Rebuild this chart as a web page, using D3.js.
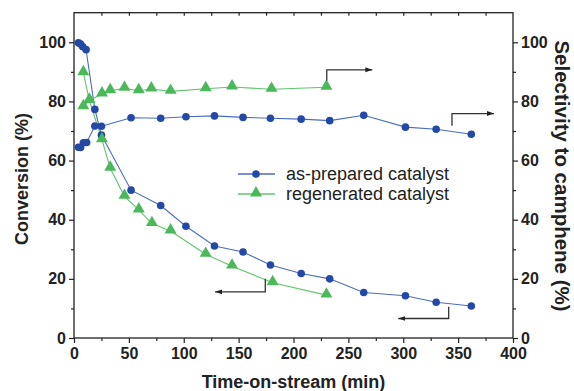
<!DOCTYPE html>
<html><head><meta charset="utf-8">
<script src="https://cdn.jsdelivr.net/npm/d3@7"></script>
<style>body{margin:0;background:#fff}svg{display:block}</style>
</head><body>
<svg id="chart" width="574" height="391"></svg>
<script>
// as-prepared catalyst
const bluConvT = [4, 6, 8, 11, 19, 25, 52, 79, 102, 128, 154, 179, 207, 233, 264, 302, 330, 362];
const bluConvV = [99.8, 99.4, 98.5, 97.5, 77.3, 68.6, 50, 44.8, 37.8, 31.1, 29.1, 24.7, 21.8, 20, 15.4, 14.3, 12.1, 10.8];
const bluSelT = [4, 6, 8.5, 11.5, 19, 25, 52, 79, 102, 128, 154, 179, 207, 233, 264, 302, 330, 362];
const bluSelV = [64.5, 64.4, 66, 66.1, 71.7, 71.6, 74.5, 74.3, 74.8, 75.1, 74.6, 74.3, 74, 73.5, 75.3, 71.3, 70.6, 68.9];
// regenerated catalyst
const grnConvT = [8.5, 14, 25.5, 33, 46, 59, 71, 88, 120, 144, 181, 230];
const grnConvV = [89.7, 80.3, 67, 57.4, 47.9, 43.3, 38.7, 36.2, 28.3, 24.3, 18.7, 14.5];
const grnSelT = [8.5, 14, 25.5, 33, 46, 59, 70.5, 88, 120, 144, 180, 230];
const grnSelV = [78.2, 80.3, 82.5, 83.6, 84.4, 83.6, 84.2, 83.4, 84.3, 84.9, 84.1, 84.8];
// axis ticks
const xTicks = [0, 50, 100, 150, 200, 250, 300, 350, 400];
const yTicks = [0, 20, 40, 60, 80, 100];
// annotation arrows [t, v] : corner-start, corner, end
const arrows = [
  [[230.3, 87], [230.3, 90.7], [271.8, 90.7]],
  [[344.4, 71.8], [344.4, 75.9], [382.7, 75.9]],
  [[174.3, 20], [174.3, 15.6], [128.5, 15.6]],
  [[341.4, 10.6], [341.4, 6.6], [295.5, 6.6]]
];
const legendLabels = ["as-prepared catalyst", "regenerated catalyst"];

const BLUE = "#2348a6", BLUE_L = "#4a6cc0", GREEN = "#4cb85c", GREEN_L = "#62c46f";
const svg = d3.select("#chart");
const L = 74, R = 513, T = 12.7, B = 338;
const x = d3.scaleLinear().domain([0, 400]).range([L, R]);
const y = d3.scaleLinear().domain([0, 110]).range([B, T]);
const FONT = "'Liberation Sans', Arial, Helvetica, sans-serif";

svg.append("defs").append("marker").attr("id", "ah").attr("viewBox", "0 0 10 10")
  .attr("refX", 10).attr("refY", 5).attr("markerWidth", 7).attr("markerHeight", 7)
  .attr("markerUnits", "userSpaceOnUse").attr("orient", "auto")
  .append("path").attr("d", "M0,1.5L10,5L0,8.5Z").attr("fill", "#222");

// frame
svg.append("rect").attr("x", L).attr("y", T).attr("width", R - L).attr("height", B - T)
  .attr("fill", "none").attr("stroke", "#222").attr("stroke-width", 1.3);

// axes
const tickStyle = g => {
  g.select(".domain").remove();
  g.selectAll("line").attr("stroke", "#222").attr("stroke-width", 1.2);
  g.selectAll("text").attr("font-family", FONT).attr("font-weight", "bold").attr("font-size", "16px").attr("fill", "#222");
};
const minorY = d3.range(10, 110, 20);
const minorX = d3.range(25, 400, 50);
svg.append("g").attr("transform", `translate(${L},0)`).call(d3.axisLeft(y).tickValues(yTicks).tickSize(5).tickPadding(3)).call(tickStyle);
svg.append("g").attr("transform", `translate(${L},0)`).call(d3.axisLeft(y).tickValues(minorY).tickSize(3).tickFormat("")).call(tickStyle);
svg.append("g").attr("transform", `translate(${R},0)`).call(d3.axisRight(y).tickValues(yTicks).tickSize(5).tickPadding(3)).call(tickStyle);
svg.append("g").attr("transform", `translate(${R},0)`).call(d3.axisRight(y).tickValues(minorY).tickSize(3).tickFormat("")).call(tickStyle);
svg.append("g").attr("transform", `translate(0,${B})`).call(d3.axisBottom(x).tickValues(xTicks).tickSize(5).tickPadding(5)).call(tickStyle);
svg.append("g").attr("transform", `translate(0,${B})`).call(d3.axisBottom(x).tickValues(minorX).tickSize(3).tickFormat("")).call(tickStyle);
svg.append("g").attr("transform", `translate(0,${T})`).call(d3.axisBottom(x).tickValues(d3.range(25, 400, 25)).tickSize(3).tickFormat("")).call(tickStyle);

// titles
svg.append("text").attr("x", (L + R) / 2).attr("y", 388).attr("text-anchor", "middle")
  .attr("font-family", FONT).attr("font-weight", "bold").attr("font-size", "18px").attr("fill", "#222").text("Time-on-stream (min)");
svg.append("text").attr("transform", "translate(28,179) rotate(-90)").attr("text-anchor", "middle")
  .attr("font-family", FONT).attr("font-weight", "bold").attr("font-size", "18px").attr("fill", "#222").text("Conversion (%)");
svg.append("text").attr("transform", "translate(555,176) rotate(90)").attr("text-anchor", "middle")
  .attr("font-family", FONT).attr("font-weight", "bold").attr("font-size", "20.5px").attr("fill", "#222").text("Selectivity to camphene (%)");

// series
const line = d3.line().x(d => x(d[0])).y(d => y(d[1]));
const series = [
  {t: bluConvT, v: bluConvV, c: BLUE, l: BLUE_L, m: "c"},
  {t: bluSelT, v: bluSelV, c: BLUE, l: BLUE_L, m: "c"},
  {t: grnConvT, v: grnConvV, c: GREEN, l: GREEN_L, m: "t"},
  {t: grnSelT, v: grnSelV, c: GREEN, l: GREEN_L, m: "t"}
];
const tri = d3.symbol().type(d3.symbolTriangle).size(62);
series.forEach(s => {
  const pts = s.t.map((t, i) => [t, s.v[i]]);
  svg.append("path").attr("d", line(pts)).attr("fill", "none").attr("stroke", s.l).attr("stroke-width", 1.1);
});
series.forEach(s => {
  const pts = s.t.map((t, i) => [t, s.v[i]]);
  if (s.m === "c") {
    svg.append("g").selectAll("circle").data(pts).join("circle")
      .attr("cx", d => x(d[0])).attr("cy", d => y(d[1])).attr("r", 3.8).attr("fill", s.c);
  } else {
    svg.append("g").selectAll("path").data(pts).join("path")
      .attr("transform", d => `translate(${x(d[0])},${y(d[1]) - 1})`).attr("d", tri).attr("fill", s.c);
  }
});

// arrows
arrows.forEach(a => {
  svg.append("path").attr("d", line(a)).attr("fill", "none").attr("stroke", "#333")
    .attr("stroke-width", 1.3).attr("marker-end", "url(#ah)");
});

// legend
const lg = svg.append("g");
[[BLUE, BLUE_L, "c"], [GREEN, GREEN_L, "t"]].forEach((s, i) => {
  const yy = 174 + i * 20;
  lg.append("line").attr("x1", 238).attr("x2", 275).attr("y1", yy).attr("y2", yy).attr("stroke", s[1]).attr("stroke-width", 1.3);
  if (s[2] === "c") lg.append("circle").attr("cx", 256).attr("cy", yy).attr("r", 3.8).attr("fill", s[0]);
  else lg.append("path").attr("transform", `translate(256,${yy - 1})`).attr("d", tri).attr("fill", s[0]);
  lg.append("text").attr("x", 286).attr("y", yy + 6).attr("font-family", FONT).attr("font-size", "18px")
    .attr("fill", "#222").text(legendLabels[i]);
});
</script>
</body></html>
